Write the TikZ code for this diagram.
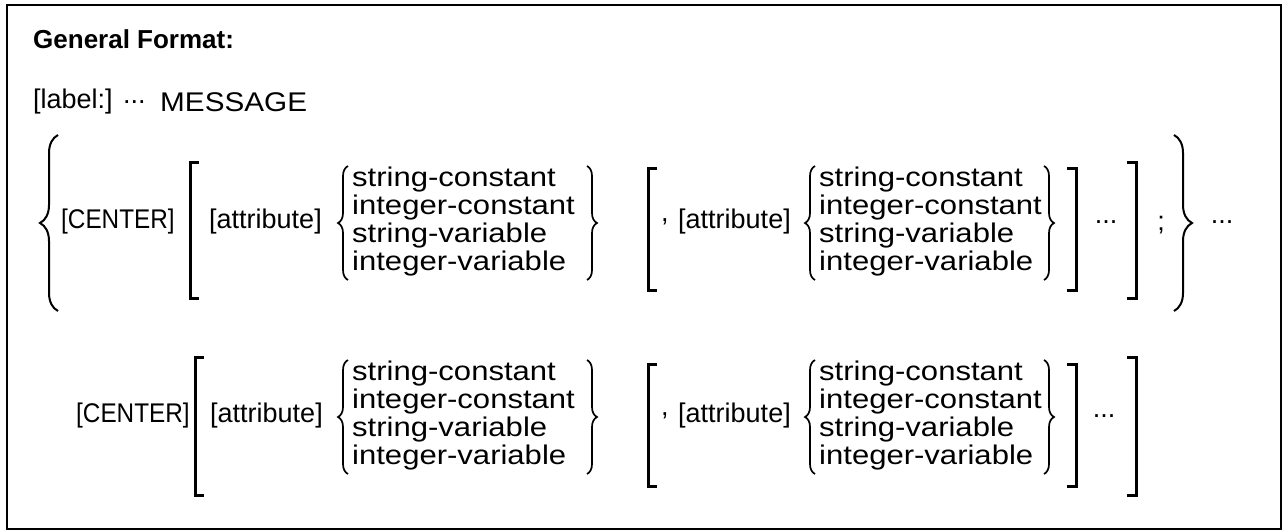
\documentclass[tikz,border=0pt]{standalone}
\usepackage{fontspec}
\setmainfont{Liberation Sans}
\newfontfamily\lstfont[FakeStretch=1.15]{Liberation Sans}
\newfontfamily\capfont[FakeStretch=0.9]{Liberation Sans}
\newfontfamily\msgfont[FakeStretch=1.1]{Liberation Sans}
\usetikzlibrary{decorations.pathreplacing}
\begin{document}
\begin{tikzpicture}[x=1pt,y=-1pt,
  txt/.style={inner sep=0pt, font=\fontsize{27}{28}\selectfont},
  wtxt/.style={txt, anchor=west},
  captxt/.style={txt, anchor=west, font=\fontsize{27}{28}\selectfont\capfont},
  lst/.style={txt, anchor=west, align=left, font=\fontsize{27}{28}\selectfont\lstfont},
  dots/.style={txt, anchor=center},
  brace/.style={decorate, decoration={brace, amplitude=#1}, line width=2pt},
  sbrace/.style={decorate, decoration={brace, amplitude=10pt}, line width=1.7pt},
  brk/.style={line width=3pt, line cap=butt, line join=miter}]
\fill[white] (0,0) rectangle (1284,531);
\useasboundingbox (0,0) rectangle (1284,531);
\draw[line width=2.2pt] (7,5) rectangle (1281,529);
% heading
\node[wtxt, font=\fontsize{26}{28}\selectfont\bfseries] (head) at (33,39) {General Format:};
\node[wtxt] (lab) at (33,102) {[label:]};
\node[wtxt] (ldots) at (123,102) {...};
\node[wtxt, font=\fontsize{27}{28}\selectfont\msgfont] (msg) at (160,102) {MESSAGE};
% ---------- row 1 ----------
\def\ca{222}
\draw[brace=18pt] (58,311) -- (58,135);
\node[captxt] (c1) at (61,\ca) {[CENTER]};
\draw[brk] (199,162) -- (190,162) -- (190,298) -- (199,298);
\node[wtxt] (a1) at (209,\ca) {[attribute]};
\draw[sbrace] (348,280) -- (348,166);
\node[lst] (l1) at (352,\ca) {string-constant\\integer-constant\\string-variable\\integer-variable};
\draw[sbrace] (587,166) -- (587,280);
\draw[brk] (657,168) -- (648,168) -- (648,290) -- (657,290);
\node[wtxt] (cm1) at (661,\ca) {,};
\node[wtxt] (a2) at (678,\ca) {[attribute]};
\draw[sbrace] (815,280) -- (815,166);
\node[lst] (l2) at (819,\ca) {string-constant\\integer-constant\\string-variable\\integer-variable};
\draw[sbrace] (1044,166) -- (1044,280);
\draw[brk] (1067,168) -- (1076,168) -- (1076,290) -- (1067,290);
\node[dots] (d1) at (1106,\ca) {...};
\draw[brk] (1127,162) -- (1136,162) -- (1136,298) -- (1127,298);
\node[txt, anchor=center] (semi) at (1161,\ca+3) {;};
\draw[brace=18pt] (1174,135) -- (1174,311);
\node[dots] (d2) at (1222,\ca) {...};
% ---------- row 2 ----------
\def\cb{416}
\node[captxt] (c2) at (76,\cb) {[CENTER]};
\draw[brk] (204,357) -- (195,357) -- (195,495) -- (204,495);
\node[wtxt] (a3) at (210,\cb) {[attribute]};
\draw[sbrace] (348,474) -- (348,360);
\node[lst] (l3) at (352,\cb) {string-constant\\integer-constant\\string-variable\\integer-variable};
\draw[sbrace] (587,360) -- (587,474);
\draw[brk] (657,364) -- (648,364) -- (648,486) -- (657,486);
\node[wtxt] (cm2) at (661,\cb) {,};
\node[wtxt] (a4) at (678,\cb) {[attribute]};
\draw[sbrace] (815,474) -- (815,360);
\node[lst] (l4) at (819,\cb) {string-constant\\integer-constant\\string-variable\\integer-variable};
\draw[sbrace] (1044,360) -- (1044,474);
\draw[brk] (1067,364) -- (1076,364) -- (1076,486) -- (1067,486);
\node[dots] (d3) at (1104,\cb) {...};
\draw[brk] (1127,357) -- (1136,357) -- (1136,495) -- (1127,495);
\end{tikzpicture}
\end{document}
